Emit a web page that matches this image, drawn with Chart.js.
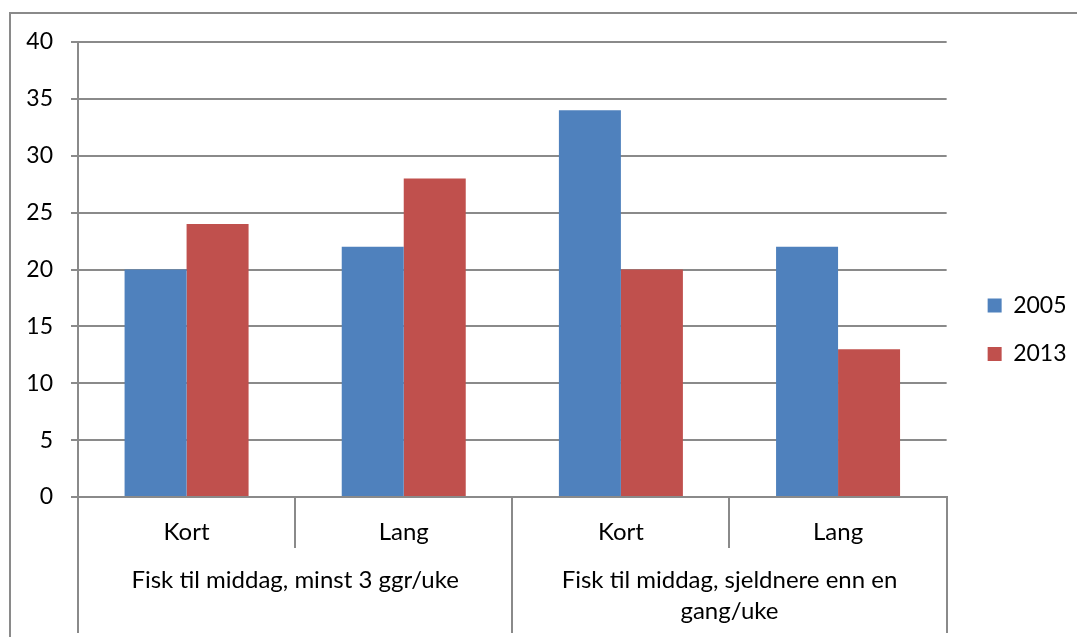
<!DOCTYPE html>
<html><head><meta charset="utf-8">
<script src="https://cdn.jsdelivr.net/npm/chart.js@4.4.1/dist/chart.umd.min.js"></script>
<style>html,body{margin:0;padding:0;background:#fff;} canvas{display:block;}</style>
</head><body>
<canvas id="c" width="1077" height="637"></canvas>
<script>
// ---- data ----
const subCategories = ['Kort', 'Lang', 'Kort', 'Lang'];
const groupLabels = [['Fisk til middag, minst 3 ggr/uke'], ['Fisk til middag, sjeldnere enn en', 'gang/uke']];
const seriesNames = ['2005', '2013'];
const values2005 = [20, 22, 34, 22];
const values2013 = [24, 28, 20, 13];
const yTickMin = 0;
const yTickMax = 40;
const yTickStep = 5;

const FONT = 'Lato';
const LINE = '#8a8a8a';

const framePlugin = {
  id: 'frame',
  beforeDraw(chart) {
    const ctx = chart.ctx;
    ctx.save();
    ctx.fillStyle = '#fff';
    ctx.fillRect(0, 0, chart.width, chart.height);
    ctx.strokeStyle = LINE;
    ctx.lineWidth = 2;
    ctx.strokeRect(10, 13, chart.width + 50, chart.height + 50);
    ctx.restore();
  }
};

new Chart(document.getElementById('c'), {
  type: 'bar',
  data: {
    labels: subCategories,
    datasets: [
      { label: seriesNames[0], data: values2005, backgroundColor: '#4F81BD', borderWidth: 0 },
      { label: seriesNames[1], data: values2013, backgroundColor: '#C0504D', borderWidth: 0 }
    ]
  },
  options: {
    responsive: false,
    animation: false,
    devicePixelRatio: 1,
    layout: { padding: { top: 42, left: 0, right: 0.5, bottom: 0 } },
    datasets: { bar: { categoryPercentage: 0.571, barPercentage: 1.0 } },
    plugins: {
      legend: {
        position: 'right',
        align: 'start',
        title: { display: true, text: ' ', padding: { top: 214.5, bottom: 0 }, font: { family: FONT, size: 10, lineHeight: 1.2 } },
        labels: {
          boxWidth: 14, boxHeight: 14, padding: 25.5,
          color: '#000', font: { family: FONT, size: 23 }
        }
      },
      tooltip: { enabled: false }
    },
    scales: {
      y: {
        min: yTickMin, max: yTickMax,
        ticks: { stepSize: yTickStep, color: '#000', padding: 18, font: { family: FONT, size: 23 } },
        grid: { color: LINE, lineWidth: 2, tickLength: 7 },
        border: { display: true, color: LINE, width: 2 },
        afterFit(s) { s.width = 78; }
      },
      yR: {
        type: 'linear', position: 'right', display: true,
        grid: { display: false, drawTicks: false },
        border: { display: false },
        ticks: { display: false },
        afterFit(s) { s.width = 15.5; }
      },
      x: {
        type: 'category',
        offset: true,
        grid: { display: true, offset: true, drawOnChartArea: false, drawTicks: true, tickLength: 51, color: LINE, lineWidth: 2 },
        border: { display: true, color: LINE, width: 2 },
        ticks: { color: '#000', padding: -30.4, autoSkip: false, maxRotation: 0, minRotation: 0,
                 font: { family: FONT, size: 24, lineHeight: 1.2 } },
        afterFit(s) { s.height = 51; }
      },
      x2: {
        type: 'category',
        position: 'bottom',
        labels: groupLabels,
        offset: true,
        grid: { display: true, offset: true, drawOnChartArea: false, drawTicks: true, tickLength: 85, color: LINE, lineWidth: 2 },
        border: { display: false },
        ticks: { color: '#000', padding: -68.6, autoSkip: false, maxRotation: 0, minRotation: 0,
                 font: { family: FONT, size: 24, lineHeight: 1.3 } },
        afterFit(s) { s.height = 89; }
      }
    }
  },
  plugins: [framePlugin]
});
</script>
</body></html>
